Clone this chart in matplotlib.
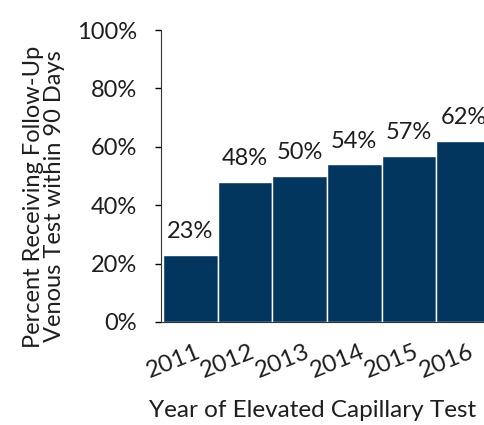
import matplotlib.pyplot as plt
from matplotlib.transforms import ScaledTranslation

years = ["2011", "2012", "2013", "2014", "2015", "2016"]
percents = [23, 48, 50, 54, 57, 62]
BAR_COLOUR = "#03365f"
TEXT_COLOUR = "#1e1e1e"

plt.rcParams["font.family"] = ["Lato", "DejaVu Sans"]

fig = plt.figure(figsize=(4.85, 4.25), dpi=100)
ax = fig.add_axes([0.332, 0.2424, 0.68, 0.687])

xs = list(range(len(years)))
ax.bar(xs, percents, width=1.0, color=BAR_COLOUR, edgecolor="white", linewidth=1)

for x, p in zip(xs, percents):
    ax.annotate(f"{p}%", (x, p), xytext=(0, 9), textcoords="offset points",
                ha="center", va="bottom", fontsize=17, color=TEXT_COLOUR)

ax.set_xlim(-0.537, 5.5)
ax.set_ylim(0, 100)
ax.set_yticks(range(0, 101, 20))
ax.set_yticklabels([f"{v}%" for v in range(0, 101, 20)], fontsize=17, color=TEXT_COLOUR)
ax.set_xticks(xs)
ax.set_xticklabels(years, fontsize=17.5, rotation=22, ha="center", color=TEXT_COLOUR)
ax.tick_params(axis="x", length=0, pad=14)
ax.tick_params(axis="y", direction="out", length=4.5, width=1, pad=13)

# nudge the slanted year labels left so they sit under the bar joins
shift = ScaledTranslation(-17 / 100, 0, fig.dpi_scale_trans)
for lbl in ax.get_xticklabels():
    lbl.set_transform(lbl.get_transform() + shift)

for side in ("top", "right"):
    ax.spines[side].set_visible(False)
ax.spines["left"].set_color("#333333")
ax.spines["bottom"].set_color("#333333")

ax.set_ylabel("Percent Receiving Follow-Up\nVenous Test within 90 Days",
              fontsize=17, color=TEXT_COLOUR, linespacing=1.05)
ax.yaxis.set_label_coords(-0.29, 0.43)
ax.set_xlabel("Year of Elevated Capillary Test", fontsize=17.5, color=TEXT_COLOUR)
ax.xaxis.set_label_coords(0.46, -0.268)

fig.savefig("out.png", dpi=100)
